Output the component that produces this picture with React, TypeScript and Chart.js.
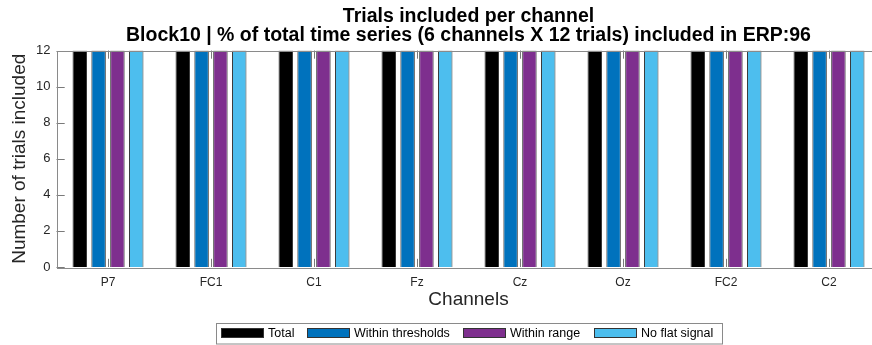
import { useEffect, useRef } from "react";
import { Chart, registerables } from "chart.js";

Chart.register(...registerables);

// Channels on the x axis
const channels = ["P7", "FC1", "C1", "Fz", "Cz", "Oz", "FC2", "C2"];

// Trials included per channel, per criterion
const totalTrials = [12, 12, 12, 12, 12, 12, 12, 12];
const withinThresholds = [12, 12, 12, 12, 12, 12, 12, 12];
const withinRange = [12, 12, 12, 12, 12, 12, 12, 12];
const noFlatSignal = [12, 12, 12, 12, 12, 12, 12, 12];

const seriesLabels = ["Total", "Within thresholds", "Within range", "No flat signal"];
const seriesColors = ["#000000", "#0072BD", "#7E2F8E", "#4DBEEE"];

const yMax = 12;
const yStep = 2;

const titleLines = [
  "Trials included per channel",
  "Block10 | % of total time series (6 channels X 12 trials) included in ERP:96",
];
const xTitle = "Channels";
const yTitle = "Number of trials included";

const FONT = "'Liberation Sans', Arial, Helvetica, sans-serif";
const AXIS_COLOR = "#262626";
const CANVAS_W = 890;
const CANVAS_H = 345;

// legend item x positions (swatch left edges) and box
const legendSwatchX = [221, 307, 463, 594];
const legendBox = { x: 216, y: 323, w: 506, h: 20.5 };

const framePlugin = {
  id: "matlabFrame",
  afterDatasetsDraw(chart: any) {
    const { ctx, chartArea } = chart;
    const { left, right, top, bottom } = chartArea;
    const tick = 8.2;
    ctx.save();
    ctx.strokeStyle = "#7a7a7a";
    ctx.lineWidth = 1;
    // inward ticks on x at category centres
    const xs = chart.scales.x;
    ctx.beginPath();
    channels.forEach((_, i) => {
      const px = Math.round(xs.getPixelForValue(i)) + 0.5;
      ctx.moveTo(px, bottom);
      ctx.lineTo(px, bottom - tick);
      ctx.moveTo(px, top);
      ctx.lineTo(px, top + tick);
    });
    // inward ticks on y (left and right)
    const ys = chart.scales.y;
    for (let v = 0; v <= yMax; v += yStep) {
      const py = Math.round(ys.getPixelForValue(v)) + 0.5;
      ctx.moveTo(left, py);
      ctx.lineTo(left + tick, py);
      ctx.moveTo(right, py);
      ctx.lineTo(right - tick, py);
    }
    ctx.stroke();
    // axes box
    ctx.strokeStyle = "#8a8a8a";
    ctx.strokeRect(Math.round(left) + 0.5, Math.round(top) + 0.5, Math.round(right - left), Math.round(bottom - top));
    ctx.restore();
  },
  afterDraw(chart: any) {
    const { ctx, chartArea } = chart;
    const cx = (chartArea.left + chartArea.right) / 2;
    ctx.save();
    // title
    ctx.fillStyle = "#000";
    ctx.textAlign = "center";
    ctx.textBaseline = "alphabetic";
    ctx.font = `bold 19.5px ${FONT}`;
    ctx.fillText(titleLines[0], cx, 22);
    ctx.fillText(titleLines[1], cx, 41);

    // legend
    ctx.fillStyle = "#fff";
    ctx.fillRect(legendBox.x, legendBox.y, legendBox.w, legendBox.h);
    ctx.strokeStyle = "#8a8a8a";
    ctx.lineWidth = 1;
    ctx.strokeRect(legendBox.x + 0.5, legendBox.y + 0.5, legendBox.w, legendBox.h);
    ctx.font = `12.5px ${FONT}`;
    ctx.textAlign = "left";
    ctx.textBaseline = "middle";
    chart.data.datasets.forEach((ds: any, i: number) => {
      const sx = legendSwatchX[i];
      ctx.fillStyle = ds.backgroundColor;
      ctx.fillRect(sx, 328, 42, 9);
      ctx.strokeStyle = "#333";
      ctx.strokeRect(sx + 0.5, 328.5, 42, 9);
      ctx.fillStyle = "#000";
      ctx.fillText(ds.label, sx + 47, 333.5);
    });
    ctx.restore();
  },
};

export default function App() {
  const canvasRef = useRef<HTMLCanvasElement | null>(null);

  useEffect(() => {
    if (!canvasRef.current) return;
    const seriesData = [totalTrials, withinThresholds, withinRange, noFlatSignal];
    const chart = new Chart(canvasRef.current, {
      type: "bar",
      data: {
        labels: channels,
        datasets: seriesData.map((d, i) => ({
          label: seriesLabels[i],
          data: d,
          backgroundColor: seriesColors[i],
          borderColor: "#3a3a3a",
          borderWidth: 1,
          categoryPercentage: 0.731,
          barPercentage: 0.77,
        })),
      },
      options: {
        animation: false,
        responsive: false,
        maintainAspectRatio: false,
        devicePixelRatio: 1,
        layout: {
          padding: { left: 0, right: CANVAS_W - 880.5, top: 50.5, bottom: CANVAS_H - 267 - 44 },
        },
        plugins: {
          legend: { display: false },
          title: { display: false },
          tooltip: { enabled: false },
        },
        scales: {
          x: {
            type: "category",
            grid: { display: false, drawTicks: false },
            border: { display: false },
            ticks: { color: AXIS_COLOR, font: { family: FONT, size: 12 }, padding: 8, maxRotation: 0 },
            title: {
              display: true,
              text: xTitle,
              color: AXIS_COLOR,
              font: { family: FONT, size: 19 },
              padding: { top: 0, bottom: 0 },
            },
            afterFit(scale: any) {
              scale.height = 44;
            },
          },
          y: {
            min: 0,
            max: yMax,
            grid: { display: false, drawTicks: false },
            border: { display: false },
            ticks: { stepSize: yStep, color: AXIS_COLOR, font: { family: FONT, size: 13 }, padding: 6 },
            title: {
              display: true,
              text: yTitle,
              color: AXIS_COLOR,
              font: { family: FONT, size: 19 },
              padding: { top: 8, bottom: 0 },
            },
            afterFit(scale: any) {
              scale.width = 56.5;
            },
          },
        },
      },
      plugins: [framePlugin],
    });
    return () => chart.destroy();
  }, []);

  return (
    <div
      style={{
        position: "fixed",
        left: 0,
        top: 0,
        width: 872,
        height: CANVAS_H,
        overflow: "hidden",
        background: "#fff",
      }}
    >
      <canvas ref={canvasRef} width={CANVAS_W} height={CANVAS_H} style={{ width: CANVAS_W, height: CANVAS_H, display: "block" }} />
    </div>
  );
}
